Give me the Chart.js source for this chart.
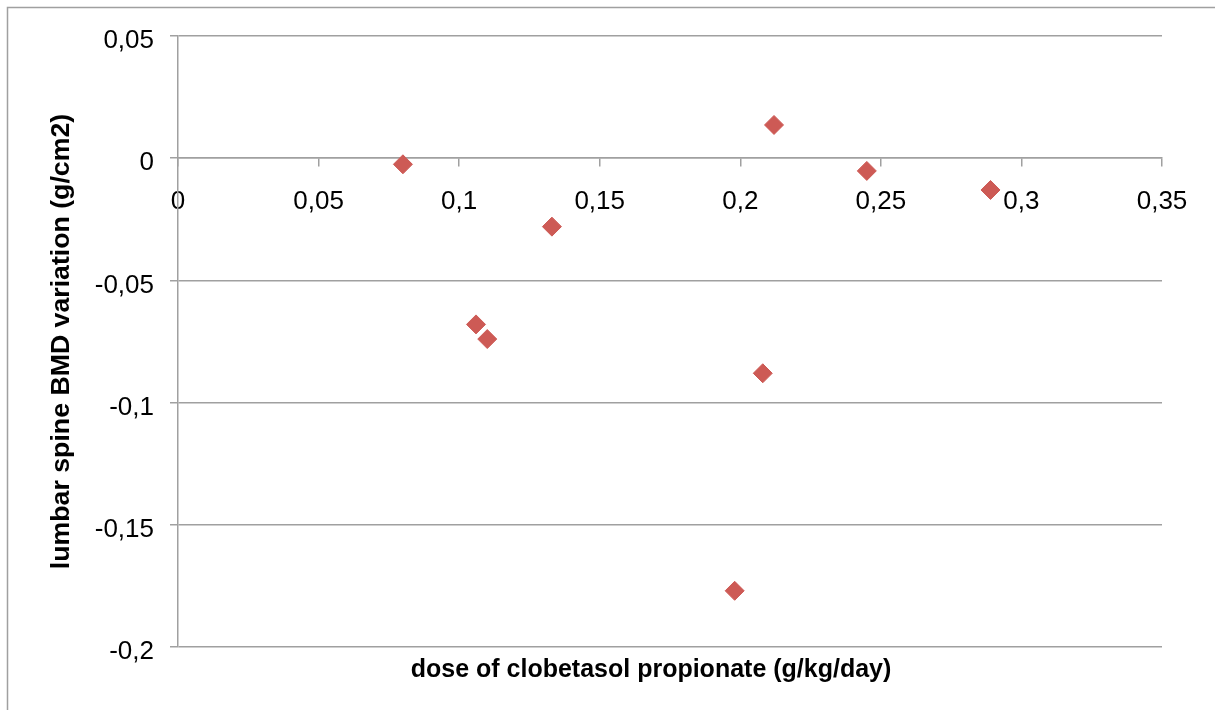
<!DOCTYPE html>
<html>
<head>
<meta charset="utf-8">
<script src="https://cdn.jsdelivr.net/npm/chart.js@4"></script>
<style>
  body { margin: 0; background: #fff; }
</style>
</head>
<body>
<canvas id="bmdChart" width="1215" height="710"></canvas>
<script>
// dose (g/kg/day) vs lumbar spine BMD variation (g/cm2)
const doses = [0.080, 0.106, 0.110, 0.133, 0.198, 0.208, 0.212, 0.245, 0.289];
const bmdVariation = [-0.0025, -0.068, -0.074, -0.028, -0.177, -0.088, 0.0136, -0.0052, -0.013];

const xTitle = 'dose of clobetasol propionate (g/kg/day)';
const yTitle = 'lumbar spine BMD variation (g/cm2)';

const gridColor = '#a0a0a0';
const markerColor = '#cd5a55';

// comma decimals like the original
const fmt = (v) => String(Math.round(v * 100) / 100).replace('.', ',');

// outer frame + bottom axis title
const extras = {
  id: 'extras',
  afterDraw(chart) {
    const ctx = chart.ctx;
    ctx.save();
    ctx.strokeStyle = gridColor;
    ctx.lineWidth = 1.5;
    ctx.strokeRect(7.5, 7.5, 1400, 900);
    ctx.fillStyle = '#000';
    ctx.font = 'bold 25px "Liberation Sans", Arial, sans-serif';
    ctx.textAlign = 'center';
    ctx.textBaseline = 'middle';
    ctx.fillText(xTitle, 651, 670);
    ctx.restore();
  }
};

const points = doses.map((d, i) => ({ x: d, y: bmdVariation[i] }));

new Chart(document.getElementById('bmdChart'), {
  type: 'scatter',
  data: {
    datasets: [{
      data: points,
      pointStyle: 'rectRot',
      pointRadius: 9.5,
      pointBackgroundColor: markerColor,
      pointBorderColor: markerColor,
      pointBorderWidth: 1,
    }],
  },
  options: {
    responsive: false,
    animation: false,
    layout: { padding: { left: 0, right: 53, top: 36, bottom: 63 } },
    plugins: {
      legend: { display: false },
      tooltip: { enabled: false },
    },
    scales: {
      x: {
        type: 'linear',
        position: { y: 0 },
        min: 0,
        max: 0.35,
        ticks: {
          stepSize: 0.05,
          padding: 20,
          color: '#000',
          font: { family: '"Liberation Sans", Arial, sans-serif', size: 26 },
          callback: fmt,
          maxRotation: 0,
          autoSkip: false,
        },
        grid: { drawOnChartArea: false, drawTicks: true, tickLength: 8, color: gridColor, lineWidth: 1.5 },
        border: { display: true, color: gridColor, width: 1.5 },
      },
      y: {
        min: -0.2,
        max: 0.05,
        afterFit: (scale) => { scale.width = 178; },
        ticks: {
          stepSize: 0.05,
          padding: 16,
          labelOffset: 5,
          color: '#000',
          font: { family: '"Liberation Sans", Arial, sans-serif', size: 26 },
          callback: fmt,
        },
        grid: { color: gridColor, lineWidth: 1.5, tickLength: 8 },
        border: { display: true, color: gridColor, width: 1.5 },
        title: {
          display: true,
          text: yTitle,
          color: '#000',
          font: { family: '"Liberation Sans", Arial, sans-serif', size: 26.7, weight: 'bold' },
          padding: { top: 46, bottom: 0 },
        },
      },
    },
  },
  plugins: [extras],
});
</script>
</body>
</html>
